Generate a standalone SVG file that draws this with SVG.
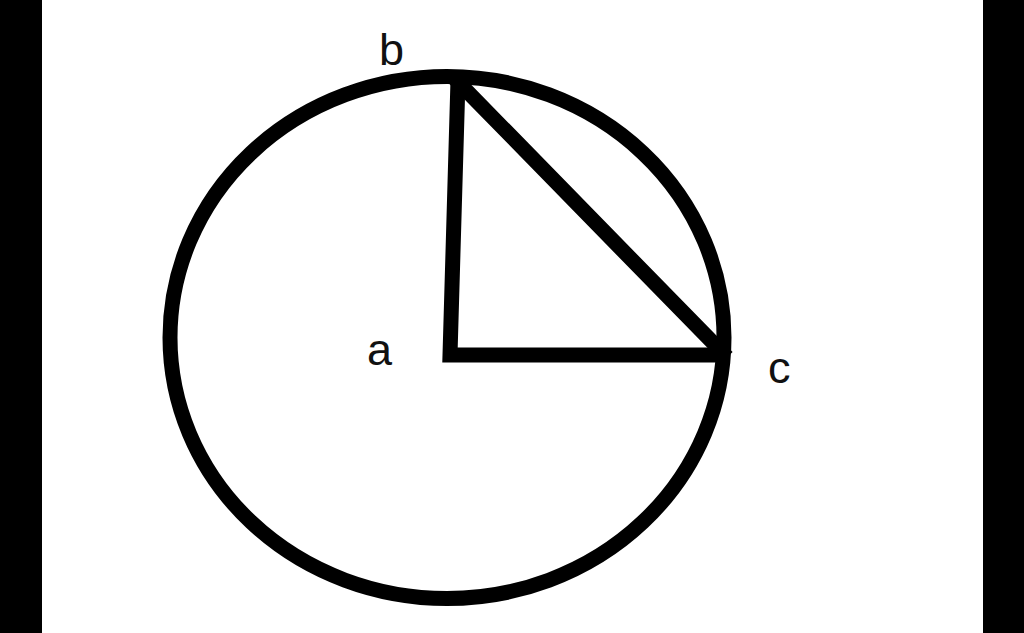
<svg xmlns="http://www.w3.org/2000/svg" width="1024" height="633" viewBox="0 0 1024 633">
<style>
.ln{fill:none;stroke:#000;stroke-width:15;stroke-linecap:square;stroke-linejoin:miter}
.lb{font-family:"Liberation Sans",Arial,sans-serif;font-size:45px;fill:#111}
</style>
<rect x="0" y="0" width="1024" height="633" fill="#fff"/>
<rect x="0" y="0" width="42" height="633" fill="#000"/>
<rect x="983" y="0" width="41" height="633" fill="#000"/>
<g id="circle">
<ellipse class="ln" cx="447" cy="337.5" rx="277" ry="261" stroke-width="14"/>
</g>
<g id="connectors">
<polyline class="ln" points="458,80 450,355 722,355"/>
<line class="ln" x1="460" y1="84" x2="722" y2="352" stroke-linecap="butt"/>
</g>
<g id="label-b"><text class="lb" x="379" y="65">b</text></g>
<g id="label-a"><text class="lb" x="367" y="365">a</text></g>
<g id="label-c"><text class="lb" x="768" y="383">c</text></g>
</svg>
